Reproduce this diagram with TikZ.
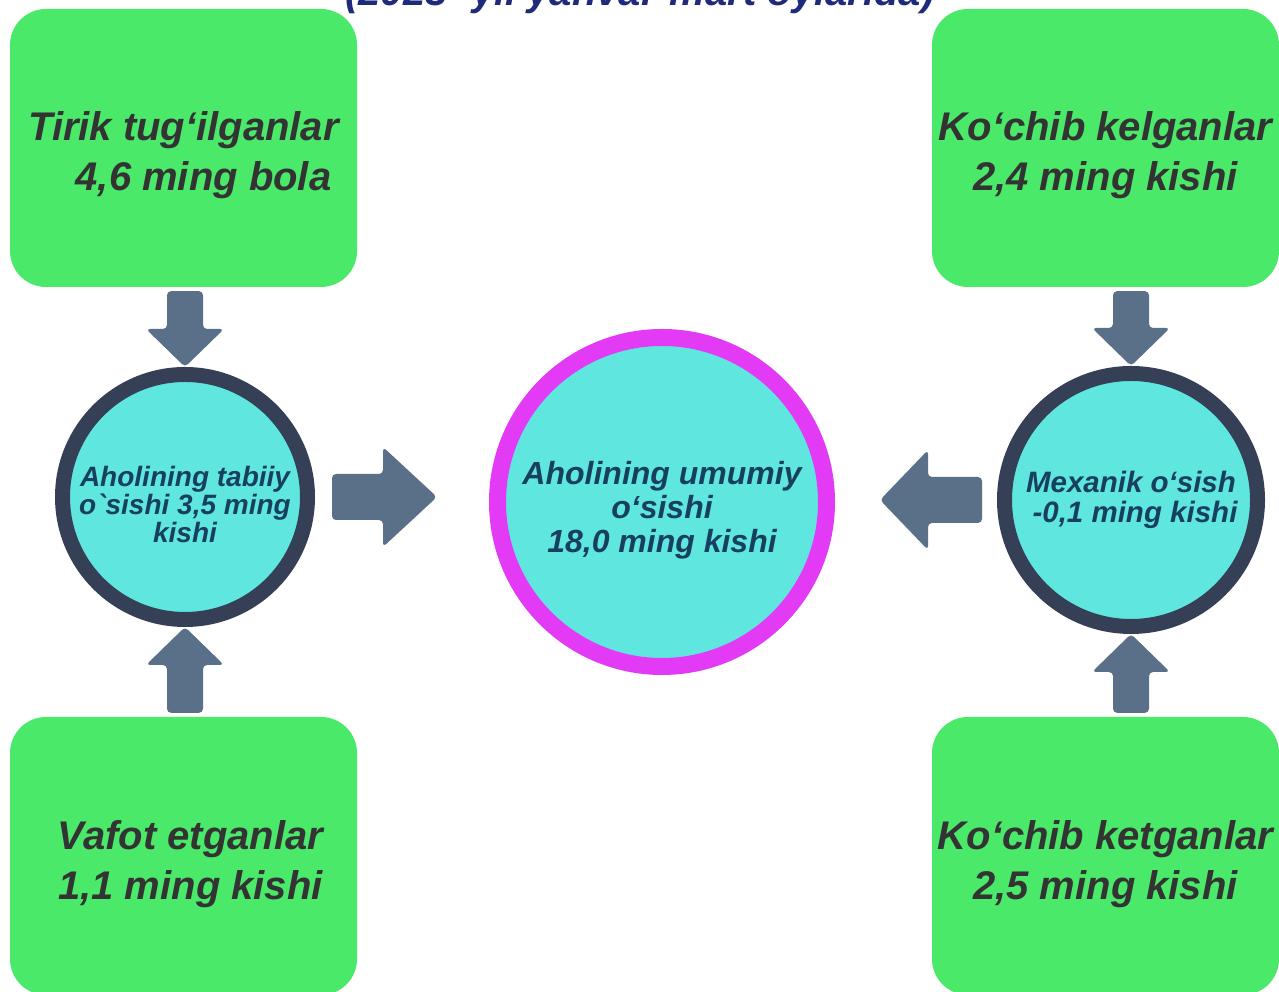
\documentclass[tikz,border=0pt]{standalone}
\usepackage{fontspec}
\newfontfamily\uzfont{Liberation Sans}
\usetikzlibrary{calc}

\definecolor{boxgreen}{HTML}{4BE96A}
\definecolor{boxtext}{HTML}{333333}
\definecolor{arrowgray}{HTML}{5A7089}
\definecolor{ringdark}{HTML}{353F55}
\definecolor{ringpink}{HTML}{E33BF5}
\definecolor{ringfill}{HTML}{5FE6DE}
\definecolor{circtext}{HTML}{173F5F}
\definecolor{titleblue}{HTML}{1F2A7A}

\tikzstyle{box} = [rectangle, rounded corners=36pt, fill=boxgreen, minimum width=347pt,
	minimum height=278pt, align=center, text=boxtext,
	font=\uzfont\bfseries\itshape\fontsize{40}{50}\selectfont]
\tikzstyle{ring} = [circle, fill=ringfill, draw=ringdark, line width=15pt, inner sep=2pt,
	align=center, text=circtext]
\tikzstyle{fat} = [fill=arrowgray, rounded corners=4pt]

\begin{document}
\begin{tikzpicture}[x=1pt,y=1pt]
\fill[white] (0,0) rectangle (1279,992);
\clip (0,0) rectangle (1279,992);

\node [text=titleblue, anchor=base, font=\uzfont\bfseries\itshape\fontsize{40}{48}\selectfont]
	(head) at (640,986) {(2023- yil yanvar-mart oylarida)};

\node [box] (birth) at (183.5,844) {\rule{0pt}{43pt}Tirik tug‘ilganlar\\\hspace*{40pt}4,6 ming bola};
\node [box] (arrive) at (1105.5,844) {\rule{0pt}{43pt}Ko‘chib kelganlar\\2,4 ming kishi};
\node [box] (death) at (183.5,136) {\rule{0pt}{45pt}\hspace*{14pt}Vafot etganlar\\\hspace*{14pt}1,1 ming kishi};
\node [box] (leave) at (1105.5,136) {\rule{0pt}{45pt}Ko‘chib ketganlar\\2,5 ming kishi};

\node [ring, minimum size=245pt, font=\uzfont\bfseries\itshape\fontsize{28}{28}\selectfont]
	(natural) at (185,495) {\rule{0pt}{36pt}Aholining tabiiy\\o`sishi 3,5 ming\\kishi};
\node [ring, minimum size=253pt, font=\uzfont\bfseries\itshape\fontsize{29.5}{30}\selectfont]
	(mech) at (1131,492) {Mexanik o‘sish\\\hspace*{8pt}-0,1 ming kishi};
\node [ring, draw=ringpink, line width=17pt, minimum size=329pt,
	font=\uzfont\bfseries\itshape\fontsize{32}{34}\selectfont]
	(total) at (662,490) {\rule{0pt}{39pt}Aholining umumiy\\o‘sishi\\18,0 ming kishi};

% inflow arrows from the boxes
\foreach \src/\dst in {birth/natural, arrive/mech}
	\fill[fat] let \p1=(\src.south), \p2=(\dst.north) in
		(\x2-18pt,\y1-4pt) -- (\x2+18pt,\y1-4pt) -- (\x2+18pt,\y2+38pt) -- (\x2+39pt,\y2+38pt)
		-- (\x2,\y2) -- (\x2-39pt,\y2+38pt) -- (\x2-18pt,\y2+38pt) -- cycle;
\foreach \src/\dst in {death/natural, leave/mech}
	\fill[fat] let \p1=(\src.north), \p2=(\dst.south) in
		(\x2-18pt,\y1+4pt) -- (\x2+18pt,\y1+4pt) -- (\x2+18pt,\y2-38pt) -- (\x2+39pt,\y2-38pt)
		-- (\x2,\y2) -- (\x2-39pt,\y2-38pt) -- (\x2-18pt,\y2-38pt) -- cycle;

% towards the total
\fill[fat] let \p1=(natural.east), \p2=(total.west) in
	(\x1+17pt,\y1-23pt) -- (\x2-106pt,\y1-23pt) -- (\x2-106pt,\y1-50pt) -- (\x2-52pt,\y1)
	-- (\x2-106pt,\y1+50pt) -- (\x2-106pt,\y1+23pt) -- (\x1+17pt,\y1+23pt) -- cycle;
\fill[fat] let \p1=(mech.west), \p2=(total.east) in
	(\x1-15pt,\y1-23pt) -- (\x2+93pt,\y1-23pt) -- (\x2+93pt,\y1-50pt) -- (\x2+45pt,\y1)
	-- (\x2+93pt,\y1+50pt) -- (\x2+93pt,\y1+23pt) -- (\x1-15pt,\y1+23pt) -- cycle;
\end{tikzpicture}
\end{document}
